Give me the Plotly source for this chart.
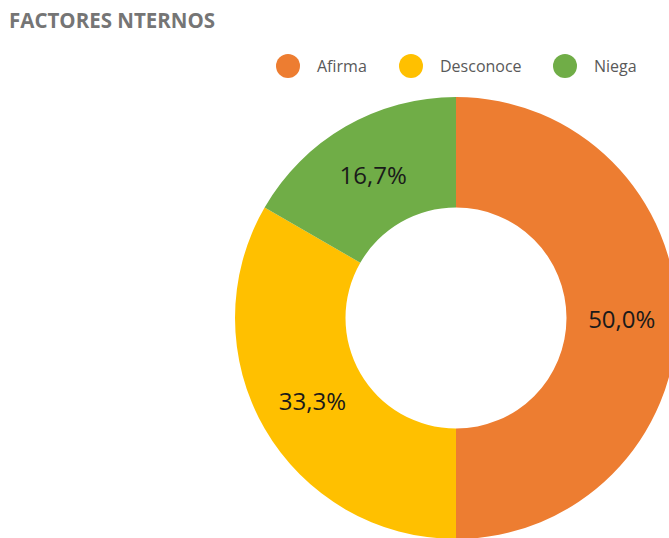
import plotly.graph_objects as go

# ---- data ----
categories = ["Afirma", "Desconoce", "Niega"]
values = [3, 2, 1]
colors = ["#ED7D31", "#FFC000", "#70AD47"]
title_text = "FACTORES NTERNOS"

W, H = 700, 560

fig = go.Figure()
fig.add_trace(go.Pie(
    labels=categories,
    values=values,
    hole=0.5,
    sort=False,
    direction="clockwise",
    rotation=0,
    marker=dict(colors=colors, line=dict(width=0)),
    texttemplate="%{percent:.1%}",
    textposition="inside",
    insidetextorientation="horizontal",
    textfont=dict(family="Open Sans, Noto Sans, sans-serif", size=24, color="#1a1a1a"),
    showlegend=False,
    hoverinfo="label+percent",
    domain=dict(x=[234 / W, 678 / W], y=[(H - 539) / H, (H - 97) / H]),
))

# custom legend (circle swatches + labels)
legend_cx = [288, 411, 565]
shapes = []
annotations = []
for name, col, cx in zip(categories, colors, legend_cx):
    shapes.append(dict(
        type="circle", xref="paper", yref="paper",
        xsizemode="pixel", ysizemode="pixel",
        xanchor=cx / W, yanchor=(H - 66) / H,
        x0=-12, x1=12, y0=-12, y1=12,
        fillcolor=col, line=dict(width=0),
    ))
    annotations.append(dict(
        text=name, xref="paper", yref="paper",
        x=(cx + 27) / W, y=(H - 66) / H,
        xanchor="left", yanchor="middle", showarrow=False,
        font=dict(family="Open Sans, Noto Sans, sans-serif", size=16, color="#595959"),
    ))

fig.update_layout(
    width=W, height=H,
    margin=dict(l=0, r=0, t=0, b=0),
    paper_bgcolor="white", plot_bgcolor="white",
    separators=",.",
    title=dict(
        text=f"<b>{title_text}</b>",
        x=9 / W, xanchor="left", xref="paper",
        y=1 - 21 / H, yanchor="middle", yref="container",
        font=dict(family="Open Sans, Noto Sans, sans-serif", size=20.5, color="#757575"),
    ),
    shapes=shapes,
    annotations=annotations,
)

fig.write_html(
    "out.html",
    config={"displayModeBar": False},
    post_script="document.body.style.margin='0';document.body.style.overflow='hidden';",
)
